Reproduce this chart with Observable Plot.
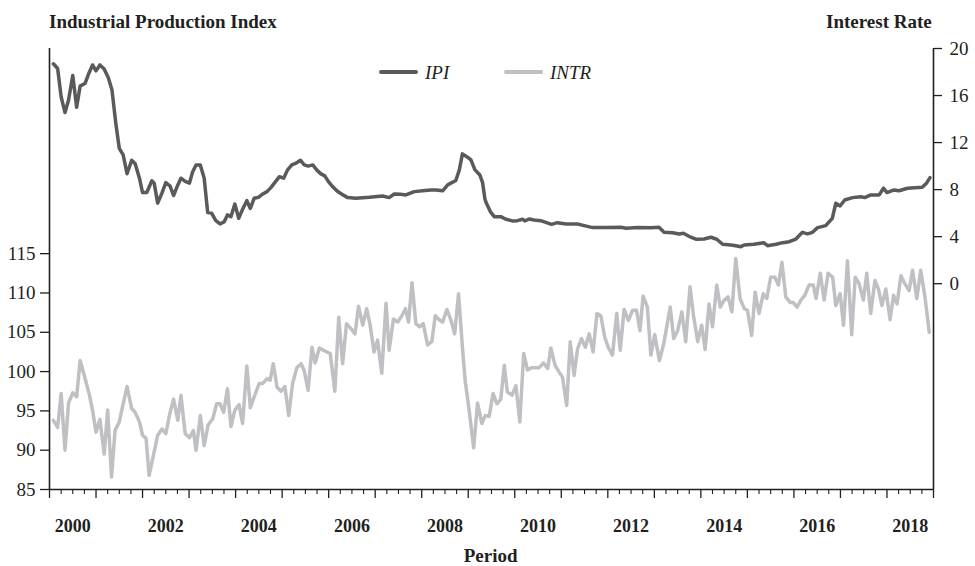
<!DOCTYPE html>
<html>
<head>
<meta charset="utf-8">
<script src="https://cdn.jsdelivr.net/npm/d3@7"></script>
<script src="https://cdn.jsdelivr.net/npm/@observablehq/plot@0.6"></script>
<style>
  body { margin: 0; background: #fff; }
  #wrap { position: relative; width: 975px; height: 566px; font-family: "Liberation Serif", "Times New Roman", serif; color: #231f20; }
  .lbl { position: absolute; white-space: nowrap; font-size: 19px; line-height: 19px; }
  .b { font-weight: bold; }
  .i { font-style: italic; }
  .sw { position: absolute; height: 4px; border-radius: 2px; width: 39px; }
  #chart { position: absolute; left: 0; top: 0; }
</style>
</head>
<body>
<div id="wrap">
  <div id="chart"></div>
  <div class="lbl b" style="left:49px; top:11.5px;">Industrial Production Index</div>
  <div class="lbl b" style="right:43.3px; top:12px;">Interest Rate</div>
  <div class="sw" style="left:379px; top:70.3px; background:#595a5c;"></div>
  <div class="lbl i" style="left:425px; top:63px;">IPI</div>
  <div class="sw" style="left:504px; top:70.3px; background:#bfc0c3;"></div>
  <div class="lbl i" style="left:550px; top:63px;">INTR</div>
  <div class="lbl b" style="left:490.6px; top:546px; transform:translateX(-50%);">Period</div>
</div>
<script>
// ---- Data (months since Jan 2000) ----
const ipiMonth = [1.0,2.1,3.0,4.0,4.9,6.0,7.0,7.9,9.2,10.1,11.1,12.0,13.0,14.1,15.2,16.1,17.1,18.0,19.0,20.0,21.2,22.1,23.2,24.0,25.1,26.4,27.0,27.9,29.0,30.0,31.1,32.0,33.1,33.9,35.0,36.1,36.9,37.8,38.9,39.9,40.8,41.8,42.9,44.0,45.1,45.9,46.8,47.8,48.8,49.8,50.9,51.8,52.8,53.9,55.0,56.1,57.1,58.1,59.3,60.4,61.4,62.5,63.6,64.7,65.7,66.7,67.9,68.9,70.0,71.0,71.9,73.0,74.1,75.2,76.9,79.0,82.5,85.9,87.6,88.9,90.6,91.9,94.1,96.2,98.4,99.7,101.4,102.7,104.8,105.7,106.5,107.8,108.7,109.7,111.0,111.7,112.3,112.6,113.7,114.7,116.4,117.7,119.4,120.7,122.0,122.6,123.7,125.0,126.7,129.5,131.0,133.2,136.2,137.9,140.1,143.9,147.4,148.7,151.7,155.1,157.2,158.5,160.7,162.4,163.5,165.4,166.7,168.8,170.6,172.1,173.6,175.7,177.0,178.3,179.2,181.7,184.2,185.2,187.4,189.1,190.8,192.5,194.2,195.5,196.8,198.1,200.2,201.9,202.8,203.9,205.1,207.1,209.3,210.3,211.8,214.0,215.1,216.0,217.8,219.1,221.3,225.1,226.2,227.1];
const ipiValue = [18.7,18.3,15.9,14.55,15.6,17.7,15.0,16.8,17.05,17.85,18.6,18.1,18.6,18.25,17.5,16.5,13.65,11.5,10.95,9.35,10.5,10.2,8.97,7.75,7.75,8.75,8.55,6.85,7.7,8.6,8.3,7.5,8.4,8.97,8.7,8.55,9.5,10.1,10.1,8.97,6.05,6.0,5.36,5.08,5.28,5.85,5.7,6.78,5.56,6.33,7.06,6.4,7.27,7.35,7.63,7.83,8.17,8.6,9.1,8.97,9.68,10.1,10.25,10.5,10.1,10.0,10.1,9.68,9.34,9.17,8.7,8.26,7.9,7.65,7.32,7.27,7.35,7.46,7.32,7.63,7.6,7.55,7.83,7.9,7.97,7.97,7.9,8.4,8.77,9.68,11.04,10.76,10.53,9.7,9.25,8.6,7.2,6.9,6.13,5.7,5.7,5.48,5.34,5.36,5.48,5.34,5.5,5.42,5.36,5.05,5.19,5.08,5.08,4.94,4.77,4.77,4.8,4.71,4.77,4.75,4.8,4.37,4.34,4.23,4.29,3.95,3.78,3.8,3.95,3.78,3.35,3.29,3.23,3.15,3.29,3.35,3.49,3.23,3.35,3.49,3.57,3.8,4.37,4.23,4.37,4.77,4.94,5.56,6.84,6.61,7.12,7.32,7.4,7.32,7.55,7.55,8.12,7.75,7.97,7.9,8.12,8.2,8.55,9.02];

const intrMonth = [1.0,2.1,3.0,4.0,4.9,6.0,7.0,7.9,9.2,10.3,11.1,12.0,13.0,14.1,15.0,16.0,16.9,18.0,19.0,20.0,21.2,22.1,23.2,24.0,24.9,25.7,26.6,27.9,29.0,30.0,31.1,32.0,33.1,33.9,35.0,36.1,37.1,37.8,38.9,39.9,40.9,42.1,43.1,44.0,44.9,45.9,46.8,47.8,48.9,49.8,50.9,51.8,52.8,54.1,55.0,56.1,56.9,57.7,58.7,59.7,60.7,61.7,62.7,63.8,64.9,65.7,66.7,67.7,68.5,69.6,70.7,72.4,73.6,74.6,75.6,76.6,77.7,78.8,79.7,80.8,81.8,82.7,83.7,84.6,85.7,86.8,87.6,88.7,89.8,90.9,91.8,92.6,93.5,94.5,95.4,96.4,97.5,98.6,99.5,100.5,101.4,102.5,103.5,104.5,105.5,106.5,107.2,108.3,109.4,110.4,111.5,112.4,113.4,114.4,115.4,116.4,117.3,118.1,119.3,120.3,121.3,122.3,123.3,124.3,126.3,127.4,128.5,129.3,130.4,131.5,132.3,133.4,134.3,135.3,136.2,137.2,138.2,139.2,140.2,141.2,142.2,143.2,144.1,145.2,146.3,147.2,148.2,149.3,150.4,151.4,152.3,153.1,154.2,155.1,156.1,157.3,158.4,160.1,161.0,162.0,163.1,164.1,165.2,166.1,167.2,168.2,169.1,170.1,171.0,172.1,173.0,174.0,175.0,176.0,177.0,178.1,179.2,180.0,181.1,182.0,183.0,184.1,185.0,186.0,187.1,188.0,188.9,189.9,191.0,191.8,192.8,193.8,194.8,195.9,197.0,197.7,198.8,199.8,200.8,202.0,202.8,203.9,204.8,205.8,206.9,207.8,208.8,209.9,210.8,211.8,212.9,213.8,214.7,215.7,216.8,217.7,218.6,219.6,220.6,221.7,222.6,223.7,224.7,225.8,226.9];
const intrValue = [93.8,92.9,97.2,90.0,96.0,97.3,96.8,101.4,99.1,97.0,95.1,92.3,93.9,89.5,95.1,86.6,92.5,93.6,95.9,98.1,95.3,94.8,93.6,91.9,91.5,86.8,88.9,91.9,92.7,92.1,94.8,96.5,93.8,97.0,92.1,91.6,92.5,90.0,94.4,90.6,93.2,94.0,95.9,95.9,94.8,97.8,93.0,95.1,95.8,93.4,100.7,95.4,96.8,98.5,98.5,99.1,98.9,101.0,98.0,97.5,98.1,94.4,98.5,100.5,101.0,100.1,97.6,103.1,101.1,103.0,102.7,102.3,97.5,106.9,101.0,106.1,105.5,104.8,108.3,105.9,108.0,105.9,102.5,104.0,99.8,108.7,102.7,106.7,106.3,107.1,108.0,106.3,111.3,106.1,105.7,106.1,103.4,103.8,107.1,106.6,106.3,107.9,106.6,104.8,109.9,103.1,98.9,94.8,90.3,96.0,93.4,94.4,94.3,97.2,95.9,96.5,100.8,97.4,97.0,98.2,93.6,102.3,100.2,100.5,100.5,101.1,100.4,103.0,100.8,99.9,99.3,95.7,103.8,99.5,102.9,104.2,103.1,104.8,102.5,107.4,107.1,104.4,103.1,102.1,107.4,102.7,107.9,106.5,107.8,107.8,105.2,109.6,108.2,102.1,104.7,101.4,103.5,108.2,104.2,105.2,107.6,103.8,110.8,107.1,103.8,105.9,102.8,108.6,105.7,111.0,108.2,109.1,109.5,107.6,114.4,109.3,108.0,107.8,104.6,110.1,107.4,109.9,109.3,112.0,112.0,111.0,113.9,109.5,108.8,108.8,108.2,109.1,109.7,111.0,111.0,109.3,112.5,109.1,112.5,112.0,108.4,109.9,105.9,114.1,104.7,112.0,111.2,109.1,112.5,107.4,111.6,110.5,108.4,110.5,106.6,109.7,108.6,112.2,111.2,110.3,112.9,109.3,112.9,109.5,105.0];

const leftTicks = [85, 90, 95, 100, 105, 110, 115];
const rightTicks = [0, 4, 8, 12, 16, 20];
const xLabelYears = [2000, 2002, 2004, 2006, 2008, 2010, 2012, 2014, 2016, 2018];
const xYears = d3.range(2000, 2020);
const leftDomain = [85, 141.1];
const rightDomain = [-17.5, 20];

// ---- Build ----
const toLeft = d3.scaleLinear(rightDomain, leftDomain);
const ipi = ipiMonth.map((m, i) => ({t: 2000 + m / 12, y: toLeft(ipiValue[i])}));
const intr = intrMonth.map((m, i) => ({t: 2000 + m / 12, y: intrValue[i]}));
const quarters = d3.range(2000, 2019).flatMap(y => [y + 0.25, y + 0.5, y + 0.75]);

const ink = "#231f20";
const chart = Plot.plot({
  width: 975,
  height: 566,
  marginLeft: 49,
  marginRight: 42,
  marginTop: 48,
  marginBottom: 77,
  x: {domain: [2000, 2019]},
  y: {domain: leftDomain},
  style: {fontFamily: '"Liberation Serif", "Times New Roman", serif', fontSize: "19px", color: ink, background: "white", overflow: "visible"},
  marks: [
    Plot.axisY({ticks: leftTicks, tickSize: 9, tickPadding: 5, label: null, anchor: "left", strokeWidth: 1.3}),
    Plot.axisY({ticks: rightTicks.map(v => toLeft(v)), tickFormat: d => String(Math.round(toLeft.invert(d))), tickSize: 8, tickPadding: 8, label: null, anchor: "right", strokeWidth: 1.3}),
    Plot.axisX({ticks: xYears, tickSize: 9, tickFormat: () => "", label: null, strokeWidth: 1.3}),
    Plot.axisX({ticks: quarters, tickSize: 5, tickFormat: () => "", label: null, strokeWidth: 1.1}),
    Plot.axisX({ticks: xLabelYears.map(y => y + 0.5), tickSize: 0, tickPadding: 30, tickFormat: d => String(Math.floor(d)), label: null, fontWeight: "bold", fontSize: 18}),
    Plot.ruleX([2000], {stroke: ink, strokeWidth: 1.6}),
    Plot.ruleX([2019], {y1: 85, y2: toLeft(20), stroke: ink, strokeWidth: 1.6}),
    Plot.ruleY([85], {stroke: ink, strokeWidth: 1.6}),
    Plot.line(intr, {x: "t", y: "y", stroke: "#bfc0c3", strokeWidth: 3.5}),
    Plot.line(ipi, {x: "t", y: "y", stroke: "#595a5c", strokeWidth: 3.5})
  ]
});
document.getElementById("chart").appendChild(chart);
</script>
</body>
</html>
